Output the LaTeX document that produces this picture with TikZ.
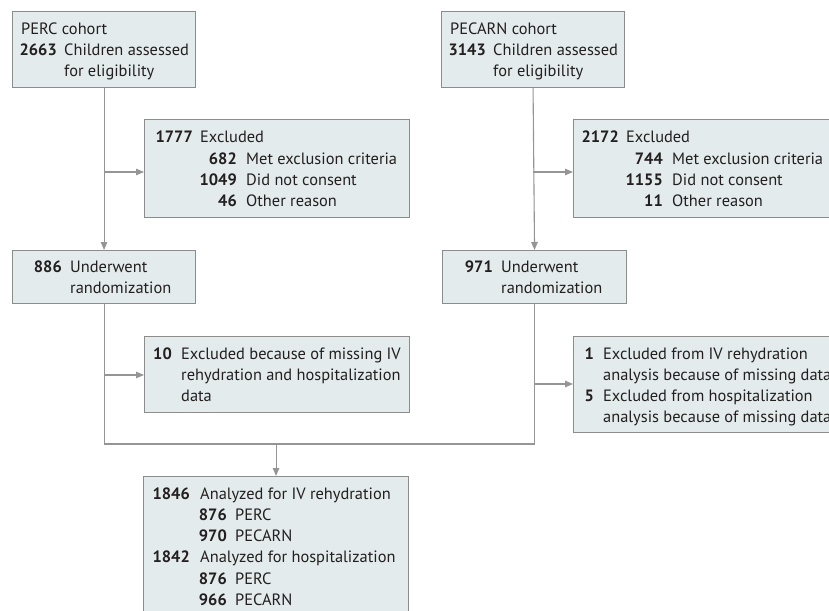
\documentclass[tikz,border=0pt]{standalone}
\usepackage{fontspec}
\setmainfont{PT Sans}
\usetikzlibrary{arrows.meta}
\definecolor{boxfill}{HTML}{E3EBED}
\definecolor{boxline}{HTML}{8C8C8C}
\definecolor{conline}{HTML}{959595}
\definecolor{txt}{HTML}{231F20}
\tikzset{
  flowbox/.style={draw=boxline, fill=boxfill, line width=1.1bp, rectangle, inner sep=0pt, anchor=north west},
  conn/.style={draw=conline, line width=1.1bp},
  arr/.style={conn, -{Triangle[length=8bp,width=6.5bp]}},
  tl/.style={anchor=base west, inner sep=0pt, text=txt, font=\fontsize{16.4bp}{21bp}\selectfont},
  tn/.style={anchor=base east, inner sep=0pt, text=txt, font=\fontsize{16.4bp}{21bp}\selectfont\bfseries},
}
\begin{document}
\begin{tikzpicture}[x=1bp,y=-1bp]
\useasboundingbox (0,0) rectangle (829,611);
\clip (0,0) rectangle (829,611);
\fill[white] (0,0) rectangle (829,611);
% boxes
\node[flowbox, minimum width=183bp, minimum height=76bp] (perc) at (12,11) {};
\node[flowbox, minimum width=183bp, minimum height=76bp] (pecarn) at (441,11) {};
\node[flowbox, minimum width=265bp, minimum height=98bp] (exc1) at (144,119) {};
\node[flowbox, minimum width=265bp, minimum height=98bp] (exc2) at (573,119) {};
\node[flowbox, minimum width=183bp, minimum height=53bp] (und1) at (12,250) {};
\node[flowbox, minimum width=184bp, minimum height=53bp] (und2) at (442,250) {};
\node[flowbox, minimum width=265bp, minimum height=76bp] (exc10) at (144,336) {};
\node[flowbox, minimum width=265bp, minimum height=96bp] (exc15) at (573,336) {};
\node[flowbox, minimum width=265bp, minimum height=150bp] (final) at (143,476) {};
% connectors
\coordinate (b1) at (perc.south |- 0,172);
\coordinate (b2) at (pecarn.south |- 0,172);
\coordinate (b3) at (und1.south |- 0,375);
\coordinate (b4) at (und2.south |- 0,384);
\coordinate (j1) at (und1.south |- 0,444);
\coordinate (j2) at (und2.south |- 0,444);
\coordinate (jm) at (final.north |- 0,444);
\draw[arr] (perc.south) -- (und1.north);
\draw[arr] (pecarn.south) -- (und2.north);
\draw[arr] (b1) -- (b1 -| exc1.west);
\draw[arr] (b2) -- (b2 -| exc2.west);
\draw[conn] (und1.south) -- (j1) -- (j2) -- (und2.south);
\draw[arr] (b3) -- (b3 -| exc10.west);
\draw[arr] (b4) -- (b4 -| exc15.west);
\draw[arr] (jm) -- (final.north);
% PERC cohort
\node[tl] (t1) at (21,35) {PERC cohort};
\node[tn] (n1) at (57,56) {2663};
\node[tl] (t2) at (64,56) {Children assessed};
\node[tl] (t3) at (64,77) {for eligibility};
% PECARN cohort
\node[tl] (t4) at (450,35) {PECARN cohort};
\node[tn] (n2) at (486,56) {3143};
\node[tl] (t5) at (493,56) {Children assessed};
\node[tl] (t6) at (493,77) {for eligibility};
% Excluded 1
\node[tn] (n3) at (193,143) {1777};
\node[tl] (t7) at (200,143) {Excluded};
\node[tn] (n4) at (237,165) {682};
\node[tl] (t8) at (246,165) {Met exclusion criteria};
\node[tn] (n5) at (237,186) {1049};
\node[tl] (t9) at (246,186) {Did not consent};
\node[tn] (n6) at (237,207) {46};
\node[tl] (t10) at (246,207) {Other reason};
% Excluded 2
\node[tn] (n7) at (619,143) {2172};
\node[tl] (t11) at (626,143) {Excluded};
\node[tn] (n8) at (663,165) {744};
\node[tl] (t12) at (672,165) {Met exclusion criteria};
\node[tn] (n9) at (663,186) {1155};
\node[tl] (t13) at (672,186) {Did not consent};
\node[tn] (n10) at (663,207) {11};
\node[tl] (t14) at (672,207) {Other reason};
% Underwent
\node[tn] (n11) at (62,272) {886};
\node[tl] (t15) at (70,272) {Underwent};
\node[tl] (t16) at (70,293) {randomization};
\node[tn] (n12) at (493,272) {971};
\node[tl] (t17) at (501,272) {Underwent};
\node[tl] (t18) at (501,293) {randomization};
% Excluded 10
\node[tn] (n13) at (172,359) {10};
\node[tl] (t19) at (181,359) {Excluded because of missing IV};
\node[tl] (t20) at (181,380) {rehydration and hospitalization};
\node[tl] (t21) at (181,401) {data};
% Excluded 1/5
\node[tn] (n14) at (594,359) {1};
\node[tl] (t22) at (603,359) {Excluded from IV rehydration};
\node[tl] (t23) at (603,380) {analysis because of missing data};
\node[tn] (n15) at (594,401) {5};
\node[tl] (t24) at (603,401) {Excluded from hospitalization};
\node[tl] (t25) at (603,422) {analysis because of missing data};
% Final
\node[tn] (n16) at (190,499) {1846};
\node[tl] (t26) at (200,499) {Analyzed for IV rehydration};
\node[tn] (n17) at (227,520) {876};
\node[tl] (t27) at (235,520) {PERC};
\node[tn] (n18) at (227,541) {970};
\node[tl] (t28) at (235,541) {PECARN};
\node[tn] (n19) at (190,562) {1842};
\node[tl] (t29) at (200,562) {Analyzed for hospitalization};
\node[tn] (n20) at (227,584) {876};
\node[tl] (t30) at (235,584) {PERC};
\node[tn] (n21) at (227,605) {966};
\node[tl] (t31) at (235,605) {PECARN};
\end{tikzpicture}
\end{document}
